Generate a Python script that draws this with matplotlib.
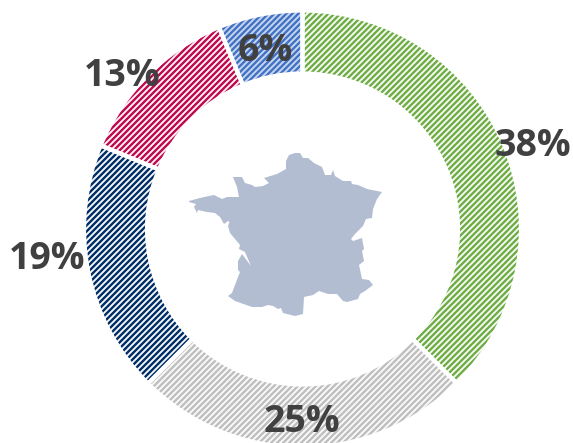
import matplotlib
matplotlib.use("Agg")
from matplotlib import pyplot as plt
from matplotlib.patches import Polygon

WIDTH = 573
HEIGHT = 444
DPI = 108  # hatch tile is one inch, 108 gives whole-pixel stripes

shares = [37.5, 25, 18.75, 12.5, 6.25]
labels = ["38%", "25%", "19%", "13%", "6%"]
stripe_colors = ["#70AD47", "#BFBFBF", "#002F67", "#BE0A50", "#4472C4"]
back_colors = ["#FAFCF8", "#FBFBFB", "#FAFBFC", "#FDF7F9", "#C9D8F1"]
label_x = [533, 302, 47, 122, 265]
label_y = [146, 422, 259, 76, 51]

# outline of the map, in px of the picture
map_x = [189, 200, 209, 214, 222, 227, 239, 237, 233, 242, 245, 252, 255, 263, 269, 264, 277, 286, 286, 289, 295, 300,
         303, 308, 314, 322, 325, 331, 333, 335, 343, 351, 352, 358, 367, 382, 377, 373, 372, 366, 363, 355, 351, 353,
         362, 364, 362, 364, 359, 362, 369, 373, 365, 360, 358, 347, 343, 337, 328, 319, 313, 304, 303, 295, 283, 281,
         278, 273, 268, 262, 252, 235, 228, 232, 238, 240, 238, 238, 242, 251, 245, 239, 240, 230, 228, 230, 233, 228,
         224, 220, 215, 207, 198, 197, 194, 196, 189]
map_y = [202, 199, 197, 196, 200, 198, 198, 188, 178, 178, 184, 186, 188, 187, 184, 179, 175, 170, 162, 156, 154, 154,
         159, 159, 164, 168, 176, 176, 171, 177, 182, 182, 185, 186, 190, 193, 200, 210, 219, 220, 227, 235, 240, 242,
         239, 250, 252, 262, 266, 280, 281, 286, 292, 295, 300, 303, 302, 295, 295, 292, 296, 298, 315, 317, 314, 309,
         310, 307, 306, 308, 308, 302, 297, 294, 278, 273, 271, 262, 255, 267, 253, 250, 246, 234, 227, 222, 225, 222,
         225, 218, 214, 213, 211, 214, 208, 205, 203]

plt.rcParams["font.family"] = "Open Sans"
plt.rcParams["hatch.linewidth"] = 1.6

fig = plt.figure(figsize=(WIDTH / DPI, HEIGHT / DPI), dpi=DPI)
ax = fig.add_axes([0, 0, 1, 1])

# stripes first, white borders on top so the hatch keeps its own colour
wedges, _ = ax.pie(shares, startangle=90, counterclock=False, radius=218.5, center=(302.5, HEIGHT - 230),
                   wedgeprops=dict(width=63, linewidth=0))
for wedge, stripe, back in zip(wedges, stripe_colors, back_colors):
    wedge.set_facecolor(back)
    wedge.set_edgecolor(stripe)
    wedge.set_hatch("//////")
    wedge.set_linewidth(0)
ax.pie(shares, startangle=90, counterclock=False, radius=218.5, center=(302.5, HEIGHT - 230),
       colors=["none"] * 5, wedgeprops=dict(width=63, linewidth=2.8, edgecolor="white"))

ax.add_patch(Polygon([(x, HEIGHT - y) for x, y in zip(map_x, map_y)], closed=True, facecolor="#B3BDD1", edgecolor="none"))

for text, x, y in zip(labels, label_x, label_y):
    ax.text(x, HEIGHT - y, text, ha="center", va="center", fontsize=25, fontweight="bold", color="#404040")

ax.set_xlim(0, WIDTH)
ax.set_ylim(0, HEIGHT)
ax.axis("off")
fig.savefig("out.png", dpi=DPI)
